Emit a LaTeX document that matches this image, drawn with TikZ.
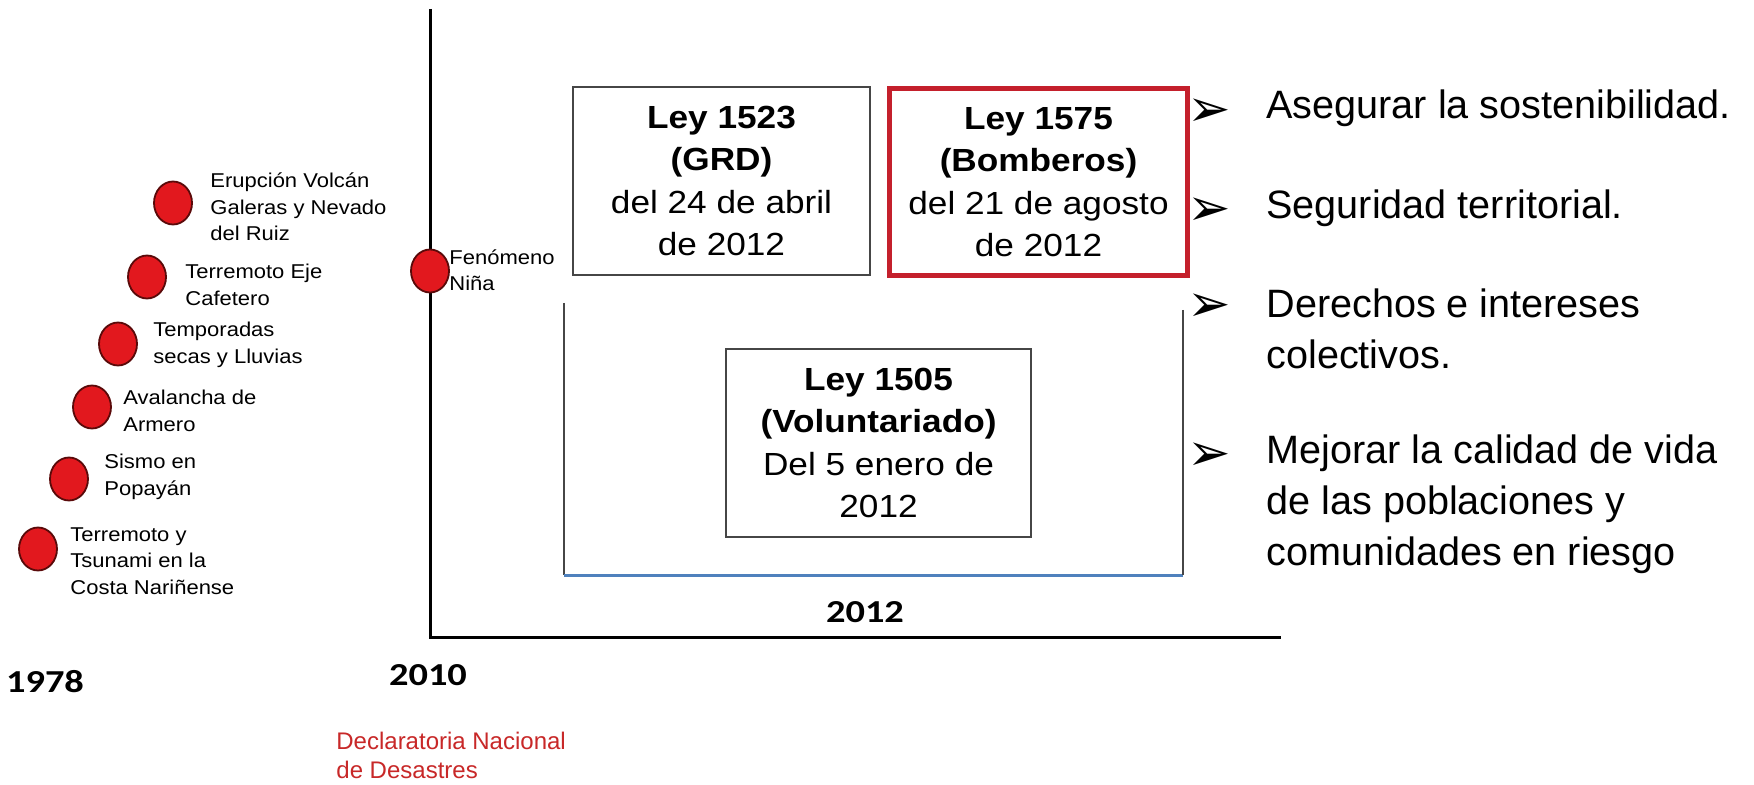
\documentclass[tikz,border=0pt]{standalone}
\usepackage{fontspec}
\usepackage{tikz}
\usetikzlibrary{shapes.geometric}
\setmainfont{Liberation Sans}
\newfontfamily\narrowfont{Liberation Sans}[FakeStretch=1.1]
\newfontfamily\yearfont{Carlito}[FakeStretch=1.2]
\newfontfamily\arrowfont{DejaVu Sans}
\definecolor{circred}{RGB}{226,24,30}
\definecolor{circborder}{RGB}{90,10,10}
\definecolor{boxred}{RGB}{196,32,44}
\definecolor{boxgray}{RGB}{70,70,70}
\definecolor{declred}{RGB}{200,40,40}
\definecolor{lineblue}{RGB}{79,129,189}
\tikzset{
	evento/.style={ellipse, draw=circborder, line width=0.9pt, fill=circred, minimum width=19pt, minimum height=21.5pt, inner sep=0pt},
	etiqueta/.style={anchor=west, align=left, inner sep=0pt, font=\narrowfont\fontsize{10}{13.25}\selectfont},
	ley/.style={draw=boxgray, line width=1pt, fill=white, align=center, inner sep=0pt, font=\narrowfont\fontsize{16}{21.25}\selectfont},
	anio/.style={inner sep=0pt, font=\yearfont\bfseries\fontsize{16}{19}\selectfont},
	punto/.style={inner sep=0pt, font=\arrowfont\fontsize{26}{30}\selectfont},
	meta/.style={anchor=west, align=left, inner sep=0pt, font=\fontsize{19.8}{25.5}\selectfont},
	eje/.style={line width=1.5pt}
}

\begin{document}
\begin{tikzpicture}[x=0.5pt, y=-0.5pt]
		%%%%% START %%%%%
		\useasboundingbox[fill=white] (0,0) rectangle (1754,785);
		
		% ejes
		\coordinate (origen) at (430,637);
		\draw[eje] (430,9) -- (origen) -- (1281,637);
		
		% eventos desde 1978
		\node[evento] (e1) at (173,203) {};
		\node[evento] (e2) at (147,277) {};
		\node[evento] (e3) at (118,344) {};
		\node[evento] (e4) at (92,407) {};
		\node[evento] (e5) at (69,479) {};
		\node[evento] (e6) at (38,549) {};
		\node[etiqueta] (t1) at (210,207) {Erupción Volcán\\Galeras y Nevado\\del Ruiz};
		\node[etiqueta] (t2) at (185,285) {Terremoto Eje\\Cafetero};
		\node[etiqueta] (t3) at (153,345) {Temporadas\\secas y Lluvias};
		\node[etiqueta] (t4) at (123,411) {Avalancha de\\Armero};
		\node[etiqueta] (t5) at (104,477) {Sismo en\\Popayán};
		\node[etiqueta] (t6) at (70,561) {Terremoto y\\Tsunami en la\\Costa Nariñense};
		
		% 2010
		\node[evento] (nina) at (430,271) {};
		\node[etiqueta] (tnina) at (449,270) {Fenómeno\\Niña};
		
		% leyes 2012
		\node[ley, minimum width=148.5pt, minimum height=94pt] (l1523) at (721.5,181) {\textbf{Ley 1523}\\\textbf{(GRD)}\\del 24 de abril\\de 2012};
		\node[ley, draw=boxred, line width=2.5pt, minimum width=149pt, minimum height=93.5pt] (l1575) at (1038.5,182) {\textbf{Ley 1575}\\\textbf{(Bomberos)}\\del 21 de agosto\\de 2012};
		
		\draw[boxgray, line width=1pt] (564,303) -- (564,575);
		\draw[lineblue, line width=1.5pt] (564,575) -- (1183,575);
		\draw[boxgray, line width=1pt] (1183,310) -- (1183,575);
		
		\node[ley, minimum width=152.5pt, minimum height=94pt] (l1505) at (878.5,443) {\textbf{Ley 1505}\\\textbf{(Voluntariado)}\\Del 5 enero de\\2012};
		
		% objetivos
		\node[punto] (b1) at (1209,113) {➢};
		\node[punto] (b2) at (1209,212) {➢};
		\node[punto] (b3) at (1209,308) {➢};
		\node[punto] (b4) at (1209,457) {➢};
		\node[meta] (m1) at (1266,108) {Asegurar la sostenibilidad.};
		\node[meta] (m2) at (1266,208) {Seguridad territorial.};
		\node[meta] (m3) at (1266,329) {Derechos e intereses\\colectivos.};
		\node[meta] (m4) at (1266,504) {Mejorar la calidad de vida\\de las poblaciones y\\comunidades en riesgo};
		
		% años
		\node[anio] (a1978) at (45,682) {1978};
		\node[anio] (a2010) at (428,675) {2010};
		\node[anio] (a2012) at (865,612) {2012};
		
		\node[anchor=west, align=left, inner sep=0pt, text=declred, font=\fontsize{12}{14.5}\selectfont] (decl) at (336,755) {Declaratoria Nacional\\de Desastres};
		
		%%%%% END %%%%%
\end{tikzpicture}
\end{document}
